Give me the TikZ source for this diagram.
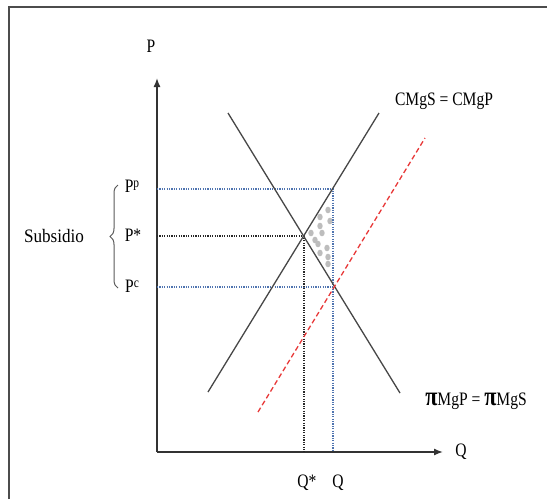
\documentclass[tikz,border=0pt]{standalone}
\usepackage{fontspec}
\setmainfont{Liberation Serif}
\usepackage{graphicx}
\usetikzlibrary{arrows.meta,decorations.pathreplacing}
\definecolor{blueln}{HTML}{4F74B0}
\definecolor{redln}{HTML}{E83838}
\definecolor{dotgray}{HTML}{BDBDBD}
\newcommand\nlbl[1]{\scalebox{0.82}[1]{#1}}
\newcommand\supl[1]{\raisebox{4.5pt}{\fontsize{14}{14}\selectfont #1}}
\begin{document}
\begin{tikzpicture}[x=1pt,y=-1pt,
  axisln/.style={line width=1.4pt, draw=black!80, -{Latex[length=9pt,width=7pt]}},
  curveln/.style={line width=1.3pt, draw=black!72},
  bdot/.style={dash pattern=on 1.2pt off 1.2pt, line width=1.2pt, draw=blueln},
  kdot/.style={dash pattern=on 1.2pt off 1.2pt, line width=1.2pt, draw=black!85},
  rdash/.style={dash pattern=on 5pt off 3pt, line width=1.3pt, draw=redln},
  lbl/.style={inner sep=0pt, font=\fontsize{19}{19}\selectfont},
  frameln/.style={line width=2pt, draw=black!70},
  gdot/.style={fill=dotgray, draw=none}]
\useasboundingbox (0,0) rectangle (547,499);
% frame (top and left only)
\coordinate (f1) at (9,499);
\coordinate (f2) at (9,7);
\coordinate (f3) at (547,7);
\draw[frameln] (f1) -- (f2) -- (f3);
% axes
\coordinate (O) at (157,452);
\coordinate (ytop) at (157,78);
\coordinate (xend) at (443,452);
\draw[axisln] (O) -- (ytop);
\draw[axisln] (O) -- (xend);
% key points
\coordinate (E) at (304,236);
\coordinate (A) at (333,189);
\coordinate (B) at (333,287);
\coordinate (yA) at (157,189);
\coordinate (yE) at (157,236);
\coordinate (yB) at (157,287);
\coordinate (xE) at (304,452);
\coordinate (xA) at (333,452);
% shaded dots
\foreach \px/\py in {328/210, 320/217, 330/221, 320/226, 311/233, 322/233, 315/240, 318/244, 327/248, 320/253, 328/257, 328/264}
  \fill[gdot] (\px,\py) ellipse (2.7pt and 3.3pt);
% dotted guide lines
\draw[bdot] (yA) -- (A) -- (xA);
\draw[bdot] (yB) -- (B);
\draw[kdot] (yE) -- (E) -- (xE);
% demand
\coordinate (d1) at (228,113);
\coordinate (d2) at (400,393);
\draw[curveln] (d1) -- (d2);
% supply
\coordinate (s1) at (208,392);
\coordinate (s2) at (379,113);
\draw[curveln] (s1) -- (s2);
% red dashed
\coordinate (r1) at (258,412);
\coordinate (r2) at (425,138);
\draw[rdash] (r1) -- (r2);
% brace
\coordinate (br1) at (118,288);
\coordinate (br2) at (118,185);
\draw[line width=1pt, draw=black!65, decorate, decoration={brace, amplitude=8pt}] (br1) -- (br2);
% labels
\node[lbl] (lP) at (151,46) {\nlbl{P}};
\node[lbl] (lQ) at (461,452) {\nlbl{Q}};
\node[lbl] (lQs) at (307,483) {\nlbl{Q*}};
\node[lbl] (lQa) at (338,483) {\nlbl{Q}};
\node[lbl] (lPp) at (132,186) {\nlbl{P\supl{p}}};
\node[lbl] (lPs) at (133,235) {\nlbl{P*}};
\node[lbl] (lPc) at (132,286) {\nlbl{P\supl{c}}};
\node[lbl] (lsub) at (54,236) {\scalebox{0.9}[1]{Subsidio}};
\node[lbl] (lcm) at (444,101) {\nlbl{CMgS = CMgP}};
\node[lbl] (lpi) at (476,401) {\nlbl{{\fontsize{27}{19}\selectfont\bfseries π}MgP = {\fontsize{27}{19}\selectfont\bfseries π}MgS}};
\end{tikzpicture}
\end{document}
